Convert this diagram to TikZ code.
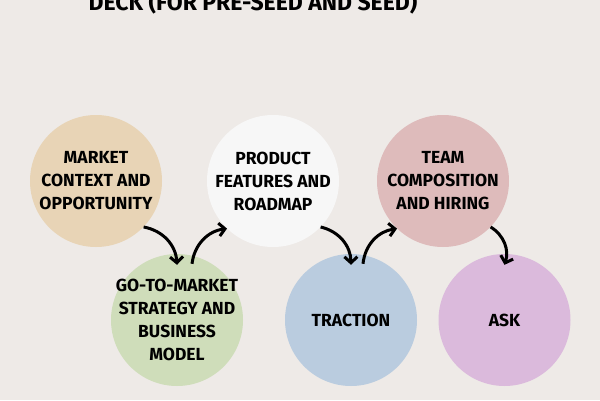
\documentclass[tikz,border=0pt]{standalone}
\usepackage{fontspec}
\setmainfont{Fira Sans}
\usetikzlibrary{arrows.meta}

\definecolor{paper}{HTML}{EEEAE7}
\definecolor{tan}{HTML}{E8D4B6}
\definecolor{sage}{HTML}{CFDDBA}
\definecolor{snow}{HTML}{F7F7F7}
\definecolor{sky}{HTML}{BACCDF}
\definecolor{rose}{HTML}{DEBBBB}
\definecolor{lilac}{HTML}{DBBADC}

\begin{document}
\begin{tikzpicture}[x=1pt, y=1pt,
    stage/.style={circle, minimum size=132pt, inner sep=-8pt, align=center,
        font=\fontsize{17.5}{23}\selectfont\bfseries},
    flow/.style={-{Straight Barb[length=6pt, width=13pt]}, line width=3pt, bend left=38}
]
    \useasboundingbox (0,0) rectangle (600,400);
    \clip (0,0) rectangle (600,400);
    \fill[paper] (0,0) rectangle (600,400);

    % Title (cut off at the top)
    \node[anchor=base, font=\fontsize{23}{27}\selectfont\bfseries] (title) at (253,389.5) {DECK (FOR PRE-SEED AND SEED)};

    % Row 1: upper circles
    \node[stage, fill=tan] (market) at (96,219) {MARKET\\CONTEXT AND\\OPPORTUNITY};
    \node[stage, fill=snow] (product) at (273,219) {PRODUCT\\FEATURES AND\\ROADMAP};
    \node[stage, fill=rose] (team) at (443,219) {TEAM\\COMPOSITION\\AND HIRING};

    % Row 2: lower circles
    \node[stage, fill=sage] (gtm) at (177,80) {GO-TO-MARKET\\STRATEGY AND\\BUSINESS\\MODEL};
    \node[stage, fill=sky] (traction) at (351,80) {TRACTION};
    \node[stage, fill=lilac] (ask) at (504.5,80) {ASK};

    % Arrows between circles
    \draw[flow] (market.-44) to ([yshift=-11pt]gtm.north);
    \draw[flow] ([xshift=15pt,yshift=-10pt]gtm.north) to (product.226);
    \draw[flow] (product.-44) to ([yshift=-11pt]traction.north);
    \draw[flow] ([xshift=12pt,yshift=-10pt]traction.north) to (team.226);
    \draw[flow] (team.-44) to ([yshift=-11pt]ask.north);
\end{tikzpicture}
\end{document}
